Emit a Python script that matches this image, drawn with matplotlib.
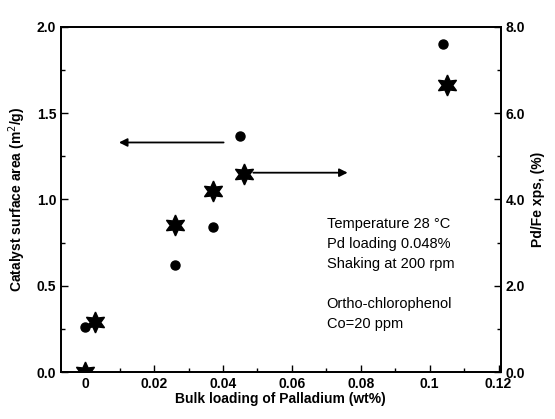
import numpy as np
import matplotlib.pyplot as plt
from matplotlib.ticker import MultipleLocator

plt.rcParams['font.family'] = ['Liberation Sans', 'DejaVu Sans']

# bulk Pd loading (wt%) vs catalyst surface area (m2/g), left axis
pd_area = [0.0, 0.026, 0.037, 0.045, 0.104]
area = [0.26, 0.62, 0.84, 1.37, 1.90]

# bulk Pd loading (wt%) vs Pd/Fe xps (%), right axis
pd_xps = [0.0, 0.003, 0.026, 0.037, 0.046, 0.105]
xps = [0.0, 1.15, 3.4, 4.2, 4.6, 6.65]

notes = ["Temperature 28 \u00b0C", "Pd loading 0.048%", "Shaking at 200 rpm",
         "", "Ortho-chlorophenol", "Co=20 ppm"]

fig = plt.figure(figsize=(5.55, 4.19), dpi=100)
ax = fig.add_axes([0.11, 0.112, 0.792, 0.824])
ax2 = ax.twinx()

ax.plot(pd_area, area, 'o', color='black', ms=6.5, zorder=5)
star = (6, 1, 0)
ax2.plot(pd_xps, xps, marker=star, ls='none', color='black', ms=15, zorder=5)

ax.set_xlim(-0.007, 0.1206)
ax.set_ylim(0, 2.0)
ax2.set_ylim(0, 8.0)

ax.set_xticks([0, 0.02, 0.04, 0.06, 0.08, 0.1, 0.12])
ax.set_xticklabels(['0', '0.02', '0.04', '0.06', '0.08', '0.1', '0.12'])
ax.xaxis.set_minor_locator(MultipleLocator(0.01))
ax.set_yticks([0, 0.5, 1.0, 1.5, 2.0])
ax.yaxis.set_minor_locator(MultipleLocator(0.25))
ax2.set_yticks([0, 2, 4, 6, 8])
ax2.set_yticklabels(['0.0', '2.0', '4.0', '6.0', '8.0'])
ax2.yaxis.set_minor_locator(MultipleLocator(1))

for a in (ax, ax2):
    a.tick_params(which='both', direction='in', width=1.0, labelsize=10)
    a.tick_params(which='major', length=5)
    a.tick_params(which='minor', length=3)
    for sp in a.spines.values():
        sp.set_linewidth(1.3)

for lab in ax.get_xticklabels() + ax.get_yticklabels() + ax2.get_yticklabels():
    lab.set_fontweight('bold')

ax.set_xlabel('Bulk loading of Palladium (wt%)', fontsize=10, fontweight='bold', labelpad=1)
ax.set_ylabel('Catalyst surface area (m$^2$/g)', fontsize=10, fontweight='bold', labelpad=6)
ax2.set_ylabel('Pd/Fe xps, (%)', fontsize=10, fontweight='bold', rotation=90, labelpad=4)

# arrows pointing to the relevant axis
ax.annotate('', xy=(0.009, 1.33), xytext=(0.041, 1.33),
            arrowprops=dict(arrowstyle='-|>', color='black', lw=1.3, mutation_scale=12))
ax.annotate('', xy=(0.077, 1.155), xytext=(0.048, 1.155),
            arrowprops=dict(arrowstyle='-|>', color='black', lw=1.3, mutation_scale=12))

ax.text(0.0701, 0.90, "\n".join(notes), fontsize=10.5, va='top', ha='left', linespacing=1.55)

fig.savefig('out.png', dpi=100)
